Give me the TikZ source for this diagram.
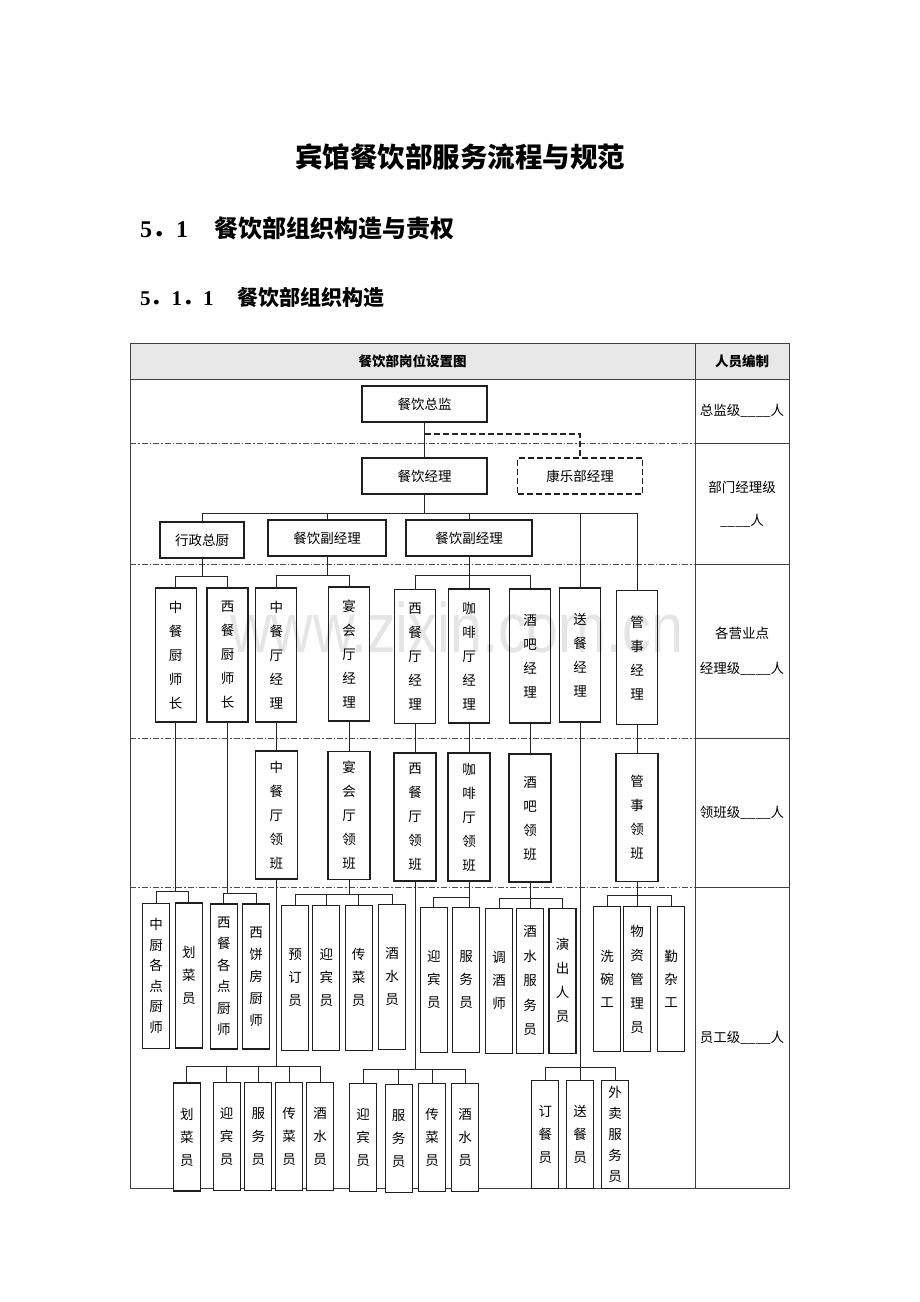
\documentclass[tikz,border=0pt]{standalone}
\usepackage{fontspec}
\setmainfont{Liberation Serif}
\newfontfamily\cjk{Noto Sans CJK SC}
\newfontfamily\wmfont{Liberation Sans}
\newcommand\cfs[1]{\cjk\fontsize{13.5}{#1}\selectfont}
\usetikzlibrary{calc}
\tikzset{
  box/.style={draw=black!88, line width=1.1pt, fill=white, inner sep=0pt, align=center, font=\cfs{16}},
  hb/.style={box, minimum height=36pt},
  vb/.style={box, font=\cfs{24}, minimum width=41pt, minimum height=134pt},
  lb/.style={box, font=\cfs{24}, minimum width=42pt, minimum height=128pt},
  sb/.style={box, font=\cfs{23}, minimum width=27pt, minimum height=145pt},
  bb/.style={box, font=\cfs{23}, minimum width=27pt, minimum height=108pt},
  conn/.style={draw=black!85, line width=0.8pt},
  dconn/.style={draw=black!85, line width=1.1pt, dash pattern=on 6pt off 3pt},
  sep/.style={draw=black!70, line width=0.7pt, dash pattern=on 6pt off 2pt on 1.5pt off 2pt},
  tab/.style={draw=black!75, line width=0.8pt},
  lab/.style={inner sep=0pt, font=\cfs{16}},
}
\begin{document}
\begin{tikzpicture}[x=1pt,y=-1pt]
\useasboundingbox (0,0) rectangle (920,1302);
\fill[white] (0,0) rectangle (920,1302);

% headings
\node[inner sep=0pt, font=\cjk\bfseries\fontsize{27.5}{30}\selectfont] (title) at (460,157) {宾馆餐饮部服务流程与规范};
\node[anchor=west, inner sep=0pt, font=\bfseries\fontsize{24}{28}\selectfont] (h1) at (140,228) {5{\cjk ．}1\hspace{26pt}{\cjk 餐饮部组织构造与责权}};
\node[anchor=west, inner sep=0pt, font=\bfseries\fontsize{21}{25}\selectfont] (h2) at (140,297) {5{\cjk ．}1{\cjk ．}1\hspace{24pt}{\cjk 餐饮部组织构造}};

% table
\fill[black!9] (130,343) rectangle (789,379);
\draw[tab] (130,343) rectangle (789,1188);
\draw[tab] (130,379) -- (789,379);
\draw[tab] (695,343) -- (695,1188);
\foreach \yy in {443,564,738,887}{
  \draw[tab] (695,\yy) -- (789,\yy);
  \draw[sep] (130,\yy) -- (695,\yy);
}
\node[lab, font=\cjk\bfseries\fontsize{13.5}{16}\selectfont] (th1) at (412.5,361) {餐饮部岗位设置图};
\node[lab, font=\cjk\bfseries\fontsize{13.5}{16}\selectfont] (th2) at (742,361) {人员编制};
\node[lab] (r1) at (742,411) {总监级\_\_\_\_人};
\node[lab] (r2a) at (742,487) {部门经理级};
\node[lab] (r2b) at (742,521) {\_\_\_\_人};
\node[lab] (r3a) at (742,633) {各营业点};
\node[lab] (r3b) at (742,669) {经理级\_\_\_\_人};
\node[lab] (r4) at (742,813) {领班级\_\_\_\_人};
\node[lab] (r5) at (742,1038) {员工级\_\_\_\_人};

% level 1-2
\node[hb, minimum width=125pt] (zj) at (424.5,404) {餐饮总监};
\node[hb, minimum width=125pt] (jl) at (424.5,476) {餐饮经理};
\node[hb, minimum width=125pt, dash pattern=on 6pt off 3pt] (kl) at (580,476) {康乐部经理};
\node[hb, minimum width=84pt] (xz) at (202,540) {行政总厨};
\node[hb, minimum width=118pt] (f1) at (327,538) {餐饮副经理};
\node[hb, minimum width=126pt] (f2) at (469,538) {餐饮副经理};

% level 3
\node[vb] (a1) at (175.7,655) {中\\餐\\厨\\师\\长};
\node[vb] (a2) at (227.5,655) {西\\餐\\厨\\师\\长};
\node[vb] (a3) at (276.3,655) {中\\餐\\厅\\经\\理};
\node[vb] (a4) at (349,654) {宴\\会\\厅\\经\\理};
\node[vb] (a5) at (415,656.5) {西\\餐\\厅\\经\\理};
\node[vb] (a6) at (469,656) {咖\\啡\\厅\\经\\理};
\node[vb] (a7) at (530,656) {酒\\吧\\经\\理};
\node[vb] (a8) at (580,655) {送\\餐\\经\\理};
\node[vb] (a9) at (637,657.7) {管\\事\\经\\理};

% level 4
\node[lb] (b3) at (276.3,815) {中\\餐\\厅\\领\\班};
\node[lb] (b4) at (349,815.7) {宴\\会\\厅\\领\\班};
\node[lb] (b5) at (415,817) {西\\餐\\厅\\领\\班};
\node[lb] (b6) at (469,817) {咖\\啡\\厅\\领\\班};
\node[lb] (b7) at (530,818) {酒\\吧\\领\\班};
\node[lb] (b9) at (637,817.3) {管\\事\\领\\班};

% level 5
\node[sb, font=\cfs{20.5}] (c1) at (156.2,975.8) {中\\厨\\各\\点\\厨\\师};
\node[sb] (c2) at (188.8,975.5) {划\\菜\\员};
\node[sb, font=\cfs{21.5}] (c3) at (223.8,976.5) {西\\餐\\各\\点\\厨\\师};
\node[sb, font=\cfs{22}] (c4) at (256.2,976.5) {西\\饼\\房\\厨\\师};
\node[sb] (c5) at (295,977.7) {预\\订\\员};
\node[sb] (c6) at (326.3,977.7) {迎\\宾\\员};
\node[sb] (c7) at (358.7,977.7) {传\\菜\\员};
\node[sb] (c8) at (392,976.8) {酒\\水\\员};
\node[sb] (c9) at (433.8,979.8) {迎\\宾\\员};
\node[sb] (c10) at (466,979.8) {服\\务\\员};
\node[sb] (c11) at (499,980.8) {调\\酒\\师};
\node[sb, font=\cfs{24.5}] (c12) at (530,980.8) {酒\\水\\服\\务\\员};
\node[sb, font=\cfs{24}] (c13) at (562.5,980.8) {演\\出\\人\\员};
\node[sb] (c14) at (607,979.2) {洗\\碗\\工};
\node[sb, font=\cfs{24}] (c15) at (637,979.2) {物\\资\\管\\理\\员};
\node[sb] (c16) at (671,979.2) {勤\\杂\\工};

% level 6
\node[bb] (d1) at (186.8,1137) {划\\菜\\员};
\node[bb] (d2) at (226.7,1136.7) {迎\\宾\\员};
\node[bb] (d3) at (258.3,1136.7) {服\\务\\员};
\node[bb] (d4) at (289,1136.3) {传\\菜\\员};
\node[bb] (d5) at (320.2,1136.3) {酒\\水\\员};
\node[bb] (d6) at (363,1137.5) {迎\\宾\\员};
\node[bb] (d7) at (398.7,1138.8) {服\\务\\员};
\node[bb] (d8) at (432,1137.5) {传\\菜\\员};
\node[bb] (d9) at (465,1137.5) {酒\\水\\员};
\node[bb] (d10) at (545.3,1134.8) {订\\餐\\员};
\node[bb] (d11) at (580,1134.8) {送\\餐\\员};
\node[bb, font=\cfs{21}] (d12) at (615,1134.8) {外\\卖\\服\\务\\员};

% coordinates for buses
\coordinate (dk) at (424.5,434);
\coordinate (y2) at (0,513);
\coordinate (y3a) at (0,576);
\coordinate (y3b) at (0,575);
\coordinate (y5a) at (0,891.7);
\coordinate (y5b) at (0,893.3);
\coordinate (y5c) at (0,894.3);
\coordinate (y5d) at (0,897.3);
\coordinate (y5e) at (0,898.3);
\coordinate (y5f) at (0,895);
\coordinate (y6a) at (0,1066);
\coordinate (y6b) at (0,1069);
\coordinate (y6c) at (0,1067.3);

% connectors
\draw[conn] (zj.south) -- (jl.north);
\draw[dconn] (dk) -| (kl.north);
\draw[conn] (jl.south) -- (jl.south |- y2);
\draw[conn] (xz.north) |- (a9.north |- y2) -- (a9.north);
\draw[conn] (f1.north) -- (f1.north |- y2);
\draw[conn] (f2.north) -- (f2.north |- y2);
\draw[conn] (a8.north) -- (a8.north |- y2);

\draw[conn] (xz.south) -- (xz.south |- y3a);
\draw[conn] (a1.north) |- (a2.north |- y3a) -- (a2.north);
\draw[conn] (f1.south) -- (f1.south |- y3b);
\draw[conn] (a3.north) |- (a4.north |- y3b) -- (a4.north);
\draw[conn] (f2.south) -- (a6.north);
\draw[conn] (a5.north) |- (a7.north |- y3b) -- (a7.north);

\draw[conn] (a3.south) -- (b3.north);
\draw[conn] (a4.south) -- (b4.north);
\draw[conn] (a5.south) -- (b5.north);
\draw[conn] (a6.south) -- (b6.north);
\draw[conn] (a7.south) -- (b7.north);
\draw[conn] (a9.south) -- (b9.north);

\draw[conn] (a1.south) -- (a1.south |- y5a);
\draw[conn] (c1.north) |- (c2.north |- y5a) -- (c2.north);
\draw[conn] (a2.south) -- (a2.south |- y5b);
\draw[conn] (c3.north) |- (c4.north |- y5b) -- (c4.north);
\draw[conn] (b4.south) -- (b4.south |- y5c);
\draw[conn] (c5.north) |- (c8.north |- y5c) -- (c8.north);
\draw[conn] (c6.north) -- (c6.north |- y5c);
\draw[conn] (c7.north) -- (c7.north |- y5c);
\draw[conn] (b6.south) -- (c10.north -| b6.south);
\draw[conn] (c9.north) |- (b6.south |- y5d);
\draw[conn] (b7.south) -- (c12.north);
\draw[conn] (c11.north) |- (c13.north |- y5e) -- (c13.north);
\draw[conn] (b9.south) -- (c15.north);
\draw[conn] (c14.north) |- (c16.north |- y5f) -- (c16.north);

\draw[conn] (b3.south) -- (b3.south |- y6a);
\draw[conn] (d1.north) |- (d5.north |- y6a) -- (d5.north);
\draw[conn] (d2.north) -- (d2.north |- y6a);
\draw[conn] (d3.north) -- (d3.north |- y6a);
\draw[conn] (d4.north) -- (d4.north |- y6a);
\draw[conn] (b5.south) -- (b5.south |- y6b);
\draw[conn] (d6.north) |- (d9.north |- y6b) -- (d9.north);
\draw[conn] (d7.north) -- (d7.north |- y6b);
\draw[conn] (d8.north) -- (d8.north |- y6b);
\draw[conn] (a8.south) -- (d11.north);
\draw[conn] (d10.north) |- (d12.north |- y6c) -- (d12.north);

% watermark
\node[anchor=base west, inner sep=0pt, text=black, opacity=0.1, xscale=0.82, font=\wmfont\fontsize{70}{70}\selectfont] (wm) at (230,652) {www.zixin.com.cn};
\end{tikzpicture}
\end{document}
